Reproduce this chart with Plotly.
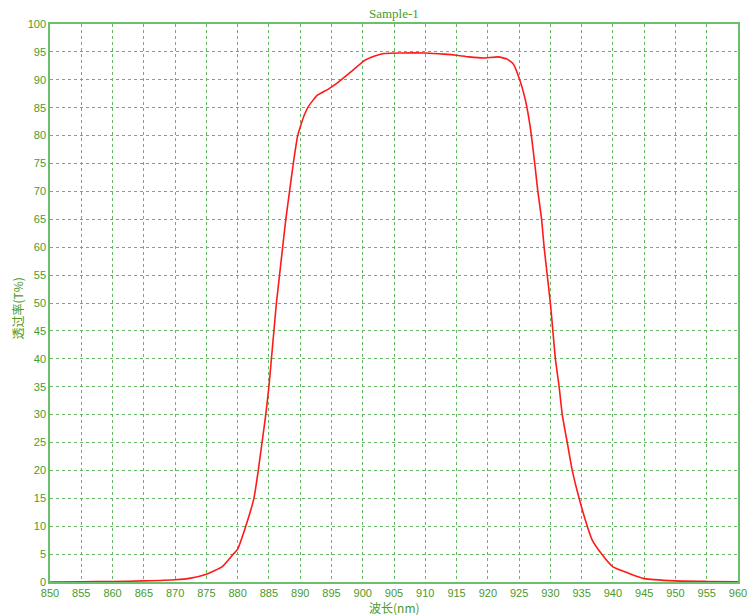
import plotly.graph_objects as go

# 波长 (nm) 与 透过率 (%)
wavelength = [850, 855, 860, 865, 870, 872.5, 875, 877.5, 879.3, 880, 881.3, 882.6,
              883.3, 883.9, 884.5, 885.0, 885.4, 885.8, 886.2, 886.7, 887.2, 887.7,
              888.3, 888.9, 889.6, 890.0, 890.6, 891.3, 892.7, 894.3, 895.9, 898.1,
              900.2, 901.8, 903.4, 906, 910, 913, 915, 917, 919.3, 921.7, 923.1,
              924.1, 925.1, 926, 926.8, 927.5, 928, 928.6, 929, 929.5, 930, 930.4,
              930.8, 931.4, 931.9, 932.7, 933.5, 934.6, 935.9, 936.7, 938.2, 940,
              942.7, 945, 950, 955, 960]
transmit = [0.0, 0.05, 0.1, 0.2, 0.4, 0.7, 1.4, 2.7, 5, 5.9, 10, 15,
            20, 25, 30, 35, 40, 45, 50, 55, 60, 65,
            70, 75, 80, 81.5, 83.5, 85.2, 87.2, 88.2, 89.4, 91.4,
            93.4, 94.2, 94.7, 94.8, 94.8, 94.6, 94.4, 94.1, 93.9, 94.1, 93.7,
            92.8, 90.0, 86.4, 81.4, 75, 70, 65, 60, 55, 50, 45,
            40, 35, 30, 25, 20, 15, 10, 7.5, 5, 2.7,
            1.5, 0.6, 0.2, 0.1, 0.05]

x_ticks = list(range(850, 961, 5))
y_ticks = list(range(0, 101, 5))

green_txt = '#4a9a2a'
green_line = '#6cbf6c'
grid_col = '#66b466'

fig = go.Figure()

fig.add_trace(go.Scatter(
    x=wavelength,
    y=transmit,
    mode='lines',
    line=dict(color='#ff1a1a', width=1.6, shape='spline', smoothing=0.4),
    showlegend=False,
))

# 标题和坐标轴名称用注释放置, 不让边距自动扩大
fig.add_annotation(text='Sample-1', xref='paper', yref='paper', x=0.5, y=1,
                   yshift=11, showarrow=False, yanchor='middle',
                   font=dict(family='Liberation Serif', size=13, color=green_txt))
fig.add_annotation(text='波长(nm)', xref='paper', yref='paper', x=0.5, y=0,
                   yshift=-25, showarrow=False, yanchor='middle',
                   font=dict(family='Noto Sans CJK SC', size=12, color=green_txt))
fig.add_annotation(text='透过率(T%)', xref='paper', yref='paper', x=0, y=0.49,
                   xshift=-32, showarrow=False, textangle=-90, xanchor='center',
                   font=dict(family='Noto Sans CJK SC', size=12, color=green_txt))

fig.update_layout(
    width=750,
    height=615,
    margin=dict(l=50, r=12, t=24, b=33),
    paper_bgcolor='white',
    plot_bgcolor='white',
    xaxis=dict(
        range=[850, 960],
        tickvals=x_ticks,
        ticks='',
        automargin=False,
        showgrid=True,
        gridcolor=grid_col,
        griddash='dot',
        gridwidth=1,
        zeroline=False,
        showline=True,
        linecolor=green_line,
        linewidth=2,
        mirror=True,
        tickfont=dict(family='Liberation Sans', size=11, color=green_txt),
    ),
    yaxis=dict(
        range=[0, 100],
        tickvals=y_ticks,
        ticks='',
        automargin=False,
        showgrid=True,
        gridcolor=grid_col,
        griddash='dot',
        gridwidth=1,
        zeroline=False,
        showline=True,
        linecolor=green_line,
        linewidth=1.5,
        mirror=True,
        tickfont=dict(family='Liberation Sans', size=11, color=green_txt),
    ),
)

# 去掉页面默认边距, 图正好填满窗口; 不显示工具栏
fig.write_html("out.html",
               config={'displayModeBar': False},
               post_script="document.body.style.margin='0';document.body.style.overflow='hidden';")
